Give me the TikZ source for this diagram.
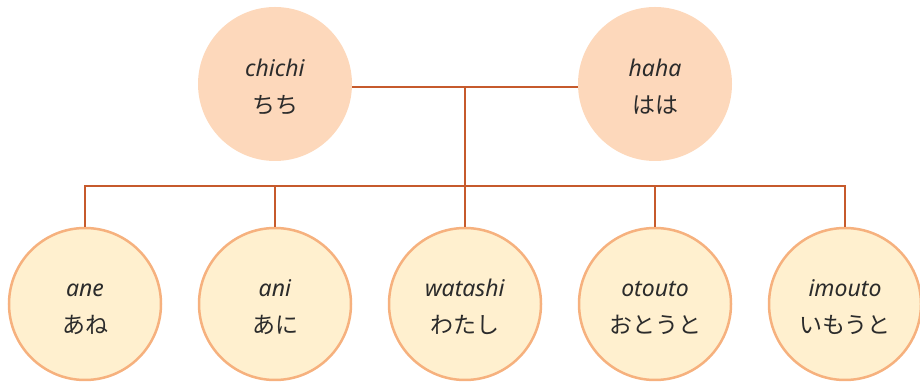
\documentclass[tikz,border=0pt]{standalone}
\usepackage{fontspec}
\setmainfont{Noto Sans}
\newfontfamily\jp{Noto Sans CJK JP}
\usetikzlibrary{calc}

\definecolor{parentfill}{HTML}{FDD8BB}
\definecolor{childfill}{HTML}{FFF0CF}
\definecolor{childline}{HTML}{F6B17E}
\definecolor{linkcol}{HTML}{C65A2C}
\definecolor{textcol}{HTML}{2B2B2B}

% romaji over kana, a bit below the centre
\newcommand\kin[2]{\raisebox{-10pt}[0pt][0pt]{\begin{tabular}{@{}c@{}}\textit{#1}\\{\jp #2}\end{tabular}}}

\begin{document}
\begin{tikzpicture}[x=1pt,y=1pt,
  parent/.style={circle,fill=parentfill,minimum size=154pt,inner sep=0pt,text=textcol,font=\fontsize{23}{37}\selectfont},
  child/.style={circle,fill=childfill,draw=childline,line width=2.5pt,minimum size=152pt,inner sep=0pt,text=textcol,font=\fontsize{23}{37}\selectfont},
  link/.style={draw=linkcol,line width=2.5pt}
]
  \useasboundingbox (0,0) rectangle (920,382);

  \node[parent](chichi) at (275,298){\kin{chichi}{ちち}};
  \node[parent](haha)   at (655,298){\kin{haha}{はは}};

  \node[child](ane)     at (85,78) {\kin{ane}{あね}};
  \node[child](ani)     at (275,78){\kin{ani}{あに}};
  \node[child](watashi) at (465,78){\kin{watashi}{わたし}};
  \node[child](otouto)  at (655,78){\kin{otouto}{おとうと}};
  \node[child](imouto)  at (845,78){\kin{imouto}{いもうと}};

  \coordinate(knot) at (465,295);
  \coordinate(bus)  at (465,196);

  \draw[link](chichi.east|-knot)--(haha.west|-knot);
  \draw[link](knot)--(watashi.north);
  \draw[link](ane.north)|-(bus)-|(imouto.north);
  \draw[link](ani.north)--(ani.north|-bus);
  \draw[link](otouto.north)--(otouto.north|-bus);
\end{tikzpicture}
\end{document}
